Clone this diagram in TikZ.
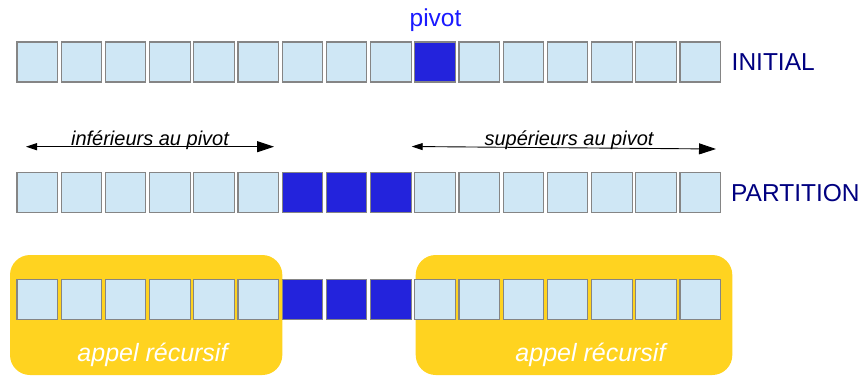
\documentclass[tikz,border=0pt]{standalone}
\usepackage{fontspec}
\setmainfont{Liberation Sans}
\usetikzlibrary{arrows.meta}
\definecolor{cellfill}{HTML}{CFE7F5}
\definecolor{cellline}{HTML}{858585}
\definecolor{pivfill}{HTML}{2323DC}
\definecolor{labnavy}{HTML}{000080}
\definecolor{pivtext}{HTML}{1A1AFF}
\definecolor{goldbox}{HTML}{FFD320}
\begin{document}
\begin{tikzpicture}[x=1pt,y=-1pt,
  cell/.style={draw=cellline,line width=1.1pt,fill=cellfill,minimum width=40.5pt,minimum height=40pt,inner sep=0pt,outer sep=0pt},
  pcell/.style={cell,fill=pivfill},
  recbox/.style={fill=goldbox,rounded corners=20pt,minimum height=120pt,inner sep=0pt,outer sep=0pt},
  biglab/.style={inner sep=0pt,font=\fontsize{24.5}{29}\selectfont},
  arrlab/.style={inner sep=0pt,font=\fontsize{20}{24}\selectfont\itshape,anchor=base},
  reclab/.style={inner sep=0pt,font=\fontsize{25}{30}\selectfont\itshape,text=white,anchor=base},
  span/.style={line width=0.9pt,{Triangle[length=11pt,width=7pt]}-{Triangle[length=17pt,width=11pt]}}
]
\useasboundingbox (0,0) rectangle (866,376);
% yellow recursive-call boxes
\node[recbox,minimum width=272.3pt] (boxL) at (146.15,315) {};
\node[recbox,minimum width=316.6pt] (boxR) at (574,315) {};
% row 1: initial
\foreach \i in {0,...,15}{
  \ifnum\i=9
    \node[pcell] (a\i) at ({37.25+\i*44.2},62) {};
  \else
    \node[cell] (a\i) at ({37.25+\i*44.2},62) {};
  \fi
}
% row 2: partition
\foreach \i in {0,...,15}{
  \ifnum\i>5 \ifnum\i<9
    \node[pcell] (b\i) at ({37.25+\i*44.2},192.7) {};
  \else
    \node[cell] (b\i) at ({37.25+\i*44.2},192.7) {};
  \fi\else
    \node[cell] (b\i) at ({37.25+\i*44.2},192.7) {};
  \fi
}
% row 3: recursive calls
\foreach \i in {0,...,15}{
  \ifnum\i>5 \ifnum\i<9
    \node[pcell] (c\i) at ({37.25+\i*44.2},299.3) {};
  \else
    \node[cell] (c\i) at ({37.25+\i*44.2},299.3) {};
  \fi\else
    \node[cell] (c\i) at ({37.25+\i*44.2},299.3) {};
  \fi
}
% labels
\node[biglab,text=pivtext,anchor=base] (pivlab) at (435.5,26.5) {pivot};
\node[biglab,text=labnavy,anchor=base west] (initlab) at (731.5,70.7) {INITIAL};
\node[biglab,text=labnavy,anchor=base west] (partlab) at (731,201) {PARTITION};
% arrows
\coordinate (lA) at (26,146.7);
\coordinate (lB) at (274,146.7);
\coordinate (rA) at (411.7,146.5);
\coordinate (rB) at (716,149);
\draw[span] (lA) -- (lB);
\draw[span] (rA) -- (rB);
\node[arrlab] (inflab) at (150,145) {inférieurs au pivot};
\node[arrlab] (suplab) at (569,145.5) {supérieurs au pivot};
\node[reclab] (recL) at (152.5,361.5) {appel récursif};
\node[reclab] (recR) at (590.5,361.5) {appel récursif};
\end{tikzpicture}
\end{document}
